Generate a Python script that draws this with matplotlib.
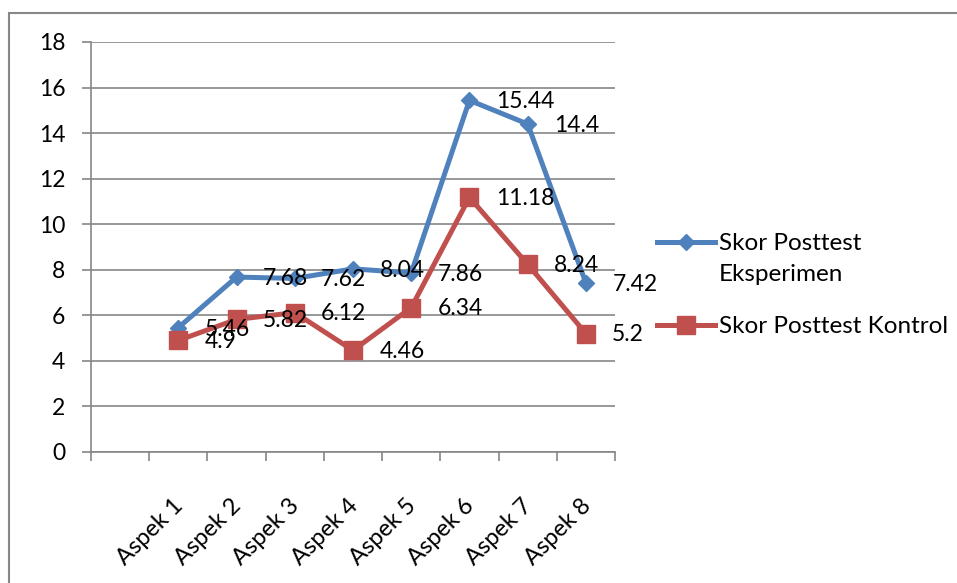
import numpy as np
import matplotlib
matplotlib.use("Agg")
import matplotlib.pyplot as plt
import matplotlib.transforms as mtransforms
from matplotlib.legend_handler import HandlerLine2D
from matplotlib.patches import Rectangle

aspek = ["Aspek 1", "Aspek 2", "Aspek 3", "Aspek 4",
         "Aspek 5", "Aspek 6", "Aspek 7", "Aspek 8"]
eksperimen = [5.46, 7.68, 7.62, 8.04, 7.86, 15.44, 14.4, 7.42]
kontrol = [4.9, 5.82, 6.12, 4.46, 6.34, 11.18, 8.24, 5.2]
label_eks = "Skor Posttest\nEksperimen"
label_kon = "Skor Posttest Kontrol"
yticks = list(range(0, 20, 2))

BLUE = "#4F81BD"
RED = "#C0504D"
GREY = "#868686"
LEG_FS = 17.5
LEG_LINESPACING = 1.55

plt.rcParams["font.family"] = ["Lato", "DejaVu Sans"]
plt.rcParams["font.size"] = 16.5


class FirstLineHandler(HandlerLine2D):
    """Line handle lifted to sit beside the first line of a two-line label."""
    def create_artists(self, legend, orig_handle, xdescent, ydescent,
                       width, height, fontsize, trans):
        arts = super().create_artists(legend, orig_handle, xdescent, ydescent,
                                      width, height, fontsize, trans)
        lift = 0.5 * LEG_LINESPACING * 0.9 * fontsize
        for a in arts:
            a.set_ydata(np.asarray(a.get_ydata(), float) + lift)
        return arts


fig = plt.figure(figsize=(9.57, 5.83), dpi=100)
ax = fig.add_axes([91 / 957, 1 - 452 / 583, 524 / 957, 410 / 583])

x = np.arange(1, len(aspek) + 1)
l_eks, = ax.plot(x, eksperimen, color=BLUE, lw=3.6, marker="D", ms=8.5,
                 zorder=3, label=label_eks)
l_kon, = ax.plot(x, kontrol, color=RED, lw=3.6, marker="s", ms=13,
                 zorder=4, label=label_kon)

for ys in (eksperimen, kontrol):
    for xi, v in zip(x, ys):
        ax.annotate(f"{v:g}", (xi, v), xytext=(19, -1), textcoords="offset points",
                    ha="left", va="center", zorder=6)

# one empty slot before Aspek 1, boundaries carry the tick marks
ax.set_xlim(-0.5, len(aspek) + 0.5)
ax.set_ylim(0, 18)
ax.set_yticks(yticks)
ax.set_xticks(x, aspek, rotation=45, ha="right", va="top", rotation_mode="anchor",
              fontsize=17)
ax.set_xticks(np.arange(-0.5, len(aspek) + 1), minor=True)
ax.tick_params(axis="x", which="major", length=0, pad=31)
ax.tick_params(axis="x", which="minor", length=6.5, width=1.2, color=GREY)
ax.tick_params(axis="y", length=6.5, width=1.2, color=GREY, pad=12)
nudge = mtransforms.ScaledTranslation(-0.06, 0, fig.dpi_scale_trans)
for lbl in ax.get_xticklabels():
    lbl.set_transform(lbl.get_transform() + nudge)

ax.grid(axis="y", color=GREY, lw=1.2)
ax.set_axisbelow(True)
for side in ("top", "right"):
    ax.spines[side].set_visible(False)
for side in ("left", "bottom"):
    ax.spines[side].set_color(GREY)
    ax.spines[side].set_linewidth(1.2)

leg = fig.legend(handles=[l_eks, l_kon], loc="upper left",
                 bbox_to_anchor=(645 / 957, 1 - 221 / 583), frameon=False,
                 fontsize=LEG_FS, borderpad=0, handlelength=2.4, handletextpad=0.15,
                 labelspacing=1.3, handler_map={l_eks: FirstLineHandler()})
for t in leg.get_texts():
    t.set_linespacing(LEG_LINESPACING)

# outer chart frame
fig.add_artist(Rectangle((9 / 957, -0.2), 2, 1.2 - 13 / 583, transform=fig.transFigure,
                         fill=False, ec="#878787", lw=1.5))

fig.savefig("out.png", dpi=100, facecolor="white")
